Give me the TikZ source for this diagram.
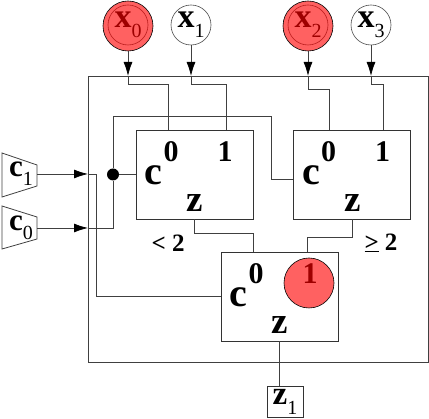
\documentclass[tikz,border=0pt]{standalone}
\usepackage{fontspec}
\setmainfont{Liberation Serif}
\usetikzlibrary{arrows.meta, calc, positioning}
\newcommand{\drawl}{\draw[line width=0.8pt, black!75]}
\newcommand{\lab}[2]{#1\raisebox{-0.3em}{\fontsize{20}{20}\selectfont\mdseries #2}}

\tikzset{
  gate/.style={draw=black!80, line width=0.8pt, minimum width=117pt, minimum height=89pt, inner sep=0pt},
  bigtxt/.style={font=\fontsize{40}{40}\selectfont\bfseries, inner sep=0pt},
  ztxt/.style={font=\fontsize{37}{37}\selectfont\bfseries, inner sep=0pt},
  digit/.style={font=\fontsize{30}{30}\selectfont\bfseries, inner sep=0pt},
  innode/.style={circle, draw=black!70, line width=0.6pt, minimum size=40pt, inner sep=0pt, font=\fontsize{34}{34}\selectfont\bfseries},
  hilite/.style={circle, draw=black, line width=0.6pt, fill=red, fill opacity=0.62, minimum size=50pt, inner sep=0pt},
  cmp/.style={font=\fontsize{25}{25}\selectfont\bfseries, inner sep=0pt},
  dot/.style={circle, fill=black, minimum size=12pt, inner sep=0pt},
}

\begin{document}
\begin{tikzpicture}[x=1pt, y=-1pt, >={Latex[length=14pt,width=9pt,color=black]}]
\useasboundingbox (0,0) rectangle (429,419);
% outer frame
\drawl (88,76) rectangle (428,362);

% gates
\node[gate] (gl) at (194.5,174.5) {};
\node[gate] (gr) at (352,174.5) {};
\node[gate] (gb) at (279.5,296.5) {};
\foreach \g in {gl,gr,gb}{
  \node[bigtxt] (\g c) at ($(\g.center)+(-41,0.5)$) {c};
  \node[digit] (\g 0) at ($(\g.center)+(-23.5,-22.5)$) {0};
  \node[digit] (\g 1) at ($(\g.center)+(30.5,-22.5)$) {1};
  \node[ztxt] (\g z) at ($(\g.center)+(0.5,28.5)$) {z};
}
\node[hilite] (hb) at ($(gb.center)+(29.5,-13.5)$) {};

% inputs x
\node[innode] (x0) at (128,25) {\lab{x}{0}};
\node[innode] (x1) at (191,25) {\lab{x}{1}};
\node[innode] (x2) at (308,25) {\lab{x}{2}};
\node[innode] (x3) at (371,25) {\lab{x}{3}};
\node[hilite] (h0) at (128,26) {};
\node[hilite] (h2) at (308,26) {};

\coordinate (i0) at (128,76);
\coordinate (i1) at (191,76);
\coordinate (i2) at (308,76);
\coordinate (i3) at (371,76);
\drawl[->] (h0) -- (i0);
\drawl[->] (x1) -- (i1);
\drawl[->] (h2) -- (i2);
\drawl[->] (x3) -- (i3);
\drawl (i0) -- ++(0,8) -| ($(gl.north)+(-26.5,0)$);
\drawl (i1) -- ++(0,8) -| ($(gl.north)+(31.5,0)$);
\drawl (i2) -- ++(0,13) -| ($(gr.north)+(-23,0)$);
\drawl (i3) -- ++(0,8) -| ($(gr.north)+(31,0)$);

% inputs c
\drawl (2,153) -- (37,165) -- (37,186) -- (2,197) -- cycle;
\drawl (2,206) -- (37,217) -- (37,239) -- (2,249) -- cycle;
\node[font=\fontsize{31}{31}\selectfont\bfseries, inner sep=0pt] (c1) at (21,174) {\lab{c}{1}};
\node[font=\fontsize{31}{31}\selectfont\bfseries, inner sep=0pt] (c0) at (21,228) {\lab{c}{0}};
\coordinate (c1r) at (37,174);
\coordinate (c0r) at (37,228);
\coordinate (k1) at (88,174);
\coordinate (k0) at (88,228);
\drawl[->] (c1r) -- (k1);
\drawl[->] (c0r) -- (k0);
\drawl (k1) -- ++(8,0) |- (gb.west);
\node[dot] (d) at (113,174.5) {};
\drawl (k0) -| (d);
\drawl (d) -- (gl.west);
\drawl (d) -- ++(0,-58) -| ($(gr.west)+(-22,4.5)$) -- ($(gr.west)+(0,4.5)$);

% outputs
\drawl (gl.south) -- ++(0,14) -| ($(gb.north)+(-26.5,0)$);
\drawl (gr.south) -- ++(0,18) -| ($(gb.north)+(27.5,0)$);
\node[cmp] (lt) at (168,243) {< 2};
\node[cmp] (ge) at (381,243) {\underline{>} 2};

\node[draw=black!80, line width=0.8pt, minimum width=36pt, minimum height=31pt, inner sep=0pt,
      font=\fontsize{33}{33}\selectfont\bfseries] (z1) at (285,401.5) {\lab{z}{1}};
\drawl (gb.south) -- (gb.south |- z1.north);
\end{tikzpicture}
\end{document}
